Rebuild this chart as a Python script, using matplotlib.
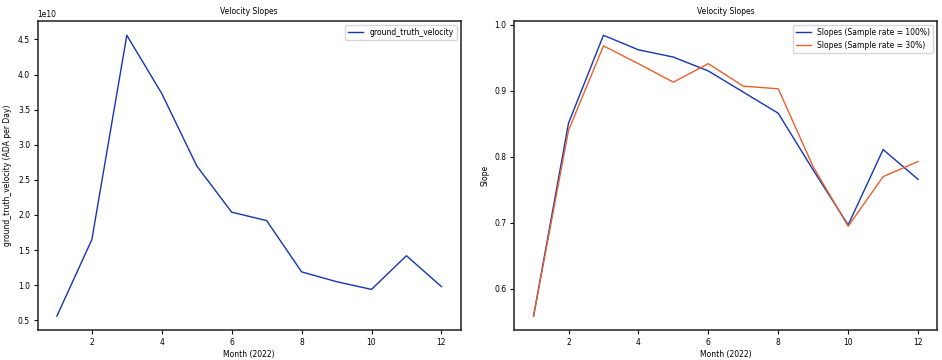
import numpy as np
import matplotlib
matplotlib.use("Agg")
import matplotlib.pyplot as plt

# Data
months = [1, 2, 3, 4, 5, 6, 7, 8, 9, 10, 11, 12]
velocity = [0.56e10, 1.65e10, 4.56e10, 3.73e10, 2.70e10, 2.04e10,
            1.92e10, 1.19e10, 1.05e10, 0.94e10, 1.42e10, 0.98e10]
slope_100 = [0.559, 0.851, 0.984, 0.962, 0.951, 0.930,
             0.898, 0.866, 0.780, 0.697, 0.811, 0.766]
slope_30 = [0.559, 0.840, 0.968, 0.941, 0.913, 0.941,
            0.907, 0.903, 0.785, 0.695, 0.770, 0.793]

blue = "#1535b5"
orange = "#e8602c"
fs = 5.5

plt.rcParams["font.size"] = fs
plt.rcParams["axes.linewidth"] = 1.1
plt.rcParams["axes.edgecolor"] = "#222222"

fig = plt.figure(figsize=(9.42, 3.6), dpi=100)
ax1 = fig.add_axes([0.040, 0.083, 0.449, 0.858])
ax2 = fig.add_axes([0.546, 0.083, 0.449, 0.858])

ax1.plot(months, velocity, color=blue, lw=1.0, label="ground_truth_velocity")
ax1.set_title("Velocity Slopes", fontsize=fs, pad=5)
ax1.set_xlabel("Month (2022)", fontsize=fs, labelpad=2)
ax1.set_ylabel("ground_truth_velocity (ADA per Day)", fontsize=fs, labelpad=4)
ax1.legend(loc="upper right", fontsize=fs)

ax2.plot(months, slope_100, color=blue, lw=1.0, label="Slopes (Sample rate = 100%)")
ax2.plot(months, slope_30, color=orange, lw=1.0, label="Slopes (Sample rate = 30%)")
ax2.set_title("Velocity Slopes", fontsize=fs, pad=5)
ax2.set_xlabel("Month (2022)", fontsize=fs, labelpad=2)
ax2.set_ylabel("Slope", fontsize=fs, labelpad=4)
ax2.set_yticks([0.6, 0.7, 0.8, 0.9, 1.0])
ax2.legend(loc="upper right", fontsize=fs)

for ax in (ax1, ax2):
    ax.tick_params(labelsize=fs, length=3, width=0.8, pad=2.5)
    ax.yaxis.get_offset_text().set_fontsize(fs)

fig.savefig("out.png", dpi=100)
